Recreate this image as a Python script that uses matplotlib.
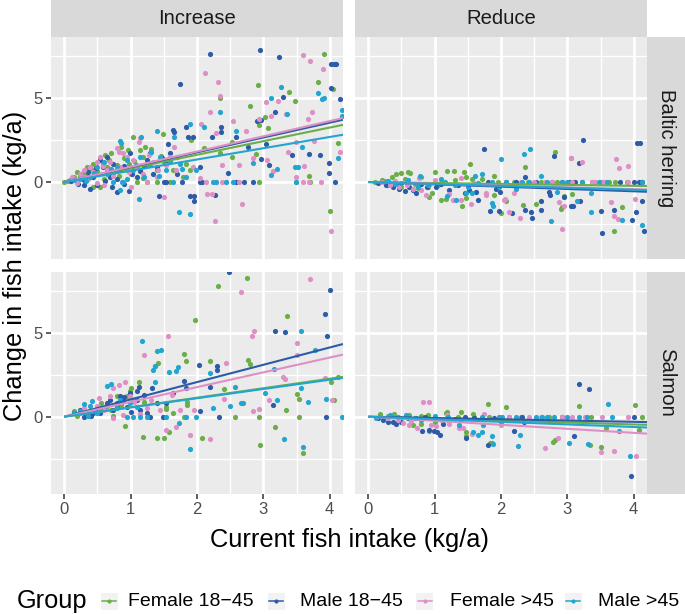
import numpy as np
import matplotlib
matplotlib.use("Agg")
import matplotlib.pyplot as plt
from matplotlib.patches import Rectangle
from matplotlib.lines import Line2D

plt.rcParams['font.family'] = ['Liberation Sans', 'DejaVu Sans']

# groups, in drawing order
groups = ["Female 18\u221245", "Male 18\u221245", "Female >45", "Male >45"]
colors = ["#6BAE47", "#2C5BA8", "#DE90C6", "#22A5D0"]
col_labels = ["Increase", "Reduce"]
row_labels = ["Baltic herring", "Salmon"]
x_ticks = [0, 1, 2, 3, 4]
y_ticks = [0, 5]

# ---- Baltic herring, Increase : (current intake, change) ----
herring_inc_f_young = [(3.91,7.62),(3.82,5.93),(4.05,5.56),(2.92,5.77),(2.34,4.98),(3.39,5.38),(3.48,4.82),(2.8,4.54),
    (3.02,3.85),(3.07,3.19),(2.94,3.39),(2.53,2.4),(2.52,1.51),(2.89,1.67),(4.13,2.34),(3.69,0.38),(4.0,-1.71),(2.94,0),
    (3.71,0),(3.49,0),(2.35,1.73),(1.91,2.5),(1.49,2.86),(1.04,2.7),(1.22,2.06),(1.3,1.95),(1.14,1.9),(0.96,1.9),(0.86,2.1),
    (0.62,1.6),(0.54,1.3),(0.44,1.1),(0.34,0.9),(0.19,0.6),(0.14,0.3),(0.09,0.12),(0.0,0.0),(0.64,0.9),(0.79,1.0),(0.94,0.7),
    (1.09,0),(1.39,0),(1.59,0),(1.24,0),(1.64,0.7),(1.79,0.3),(1.89,0.7),(1.84,1.1),(1.39,0.7),(1.14,0.7),(0.44,-0.28),
    (0.54,-0.28),(1.19,1.5),(0.7,1.75),(0.28,0.55),(0.5,0.65),(0.74,0.55),(1.05,1.25),(1.5,1.2),(2.1,2.0),
    (0.24,0.35),(0.34,0.5),(0.4,0.75),(0.58,1.05),(0.68,1.3),(0.9,1.45),(0.98,1.05),(1.27,1.0),(1.45,1.55),(0.82,0.35),
    (1.0,0.45),(1.18,0.25),(0.6,0.2),(0.06,0.05),(1.7,1.5)]
herring_inc_m_young = [(2.2,7.62),(2.95,7.86),(3.24,7.46),(1.74,5.83),(4.02,7.02),(4.07,7.02),(4.1,7.02),(4.02,5.6),
    (4.16,4.92),(3.3,5.04),(3.18,4.19),(2.36,3.25),(2.36,3.0),(2.22,2.7),(1.64,3.1),(1.66,2.95),(1.84,3.25),(1.87,2.7),
    (1.94,2.7),(1.56,2.24),(2.59,2.7),(2.9,3.65),(2.96,3.72),(2.77,2.06),(3.04,2.26),(3.08,1.03),(2.97,1.37),(3.43,1.59),
    (3.69,1.67),(3.86,1.59),(3.99,0.56),(3.99,1.11),(4.08,0),(2.84,0),(2.71,0),(2.59,0),(2.47,0.52),(2.07,0),(2.04,0),
    (1.78,0),(1.54,0),(1.5,0),(1.42,-0.83),(1.9,-0.83),(1.95,-0.83),(1.95,-1.13),(2.27,-0.75),(0.97,-0.52),(0.79,-0.6),
    (0.72,-0.28),(0.39,-0.42),(0.64,1.5),(0.54,1.3),(0.59,0.9),(0.84,0.7),(1.14,0.64),(1.24,1.3),(1.39,0.9),(1.54,1.1),
    (1.29,1.7),(0.99,1.7),(0.69,0.3),(0.44,0.32),(0.29,0.12),(0.14,0.2),(0.2,-0.1),(0.5,-0.2),(0.8,0.2),(1.1,0.3),
    (1.7,0.5),(1.6,1.7),(2.05,0.9),(0.35,0.6),(0.48,0.85),(0.74,1.1),(0.9,0.95),(1.02,0.5),(1.2,0.95),(0.62,0.05),
    (0.9,-0.1),(0.3,-0.2),(1.33,0.45),(1.47,1.4),(0.1,0.05)]
herring_inc_f_old = [(3.6,7.56),(3.7,7.22),(3.9,6.73),(2.12,6.47),(2.32,5.97),(2.34,5.14),(2.19,4.15),(2.54,3.65),
    (2.94,3.75),(3.04,4.78),(3.22,4.84),(3.11,3.93),(3.34,4.05),(3.73,4.17),(3.67,3.73),(2.06,3.43),(2.28,2.94),(2.74,3.06),
    (2.85,1.41),(3.06,1.31),(2.63,1.03),(2.37,1.01),(3.49,2.36),(3.37,1.79),(3.77,2.44),(4.16,1.79),(3.61,0.95),(3.69,0),
    (3.59,0),(3.87,0),(3.49,0.3),(3.14,0.65),(2.68,-1.29),(2.15,-0.73),(2.23,-0.73),(2.27,-2.3),(4.02,-2.92),(2.04,0.22),
    (1.94,0.91),(1.5,-0.87),(1.14,2.6),(1.12,2.4),(0.82,1.81),(0.89,1.7),(0.79,2.0),(0.54,1.5),(0.49,1.2),(0.39,0.9),
    (0.24,0.5),(0.19,-0.08),(0.29,0.3),(0.44,0.6),(0.64,0.7),(0.69,1.2),(0.84,0.9),(0.94,1.5),(1.04,1.3),(1.19,0.5),
    (1.24,0),(1.39,0.3),(1.34,1.2),(1.41,0.7),(1.66,2.1),(1.59,1.5),(1.54,1.0),(1.69,0.7),(2.29,0),(2.37,0),(2.14,0),
    (2.44,0),(2.64,0),(1.0,-0.3),(0.6,-0.2),(0.3,0.7),(0.58,0.95),(0.74,0.35),(0.98,0.6),(1.1,0.95),(0.15,0.15),
    (0.36,0.15),(0.5,-0.05),(1.28,1.6),(0.12,0.3)]
herring_inc_m_old = [(3.27,5.67),(3.82,5.28),(3.88,4.92),(3.92,5.02),(3.12,5.02),(3.35,4.03),(4.18,4.29),(2.34,4.15),
    (2.11,3.29),(1.9,3.45),(1.39,3.06),(0.84,2.46),(0.86,2.3),(1.16,2.66),(1.66,2.66),(2.59,3.06),(2.84,1.11),(3.2,0.75),
    (3.12,0.4),(3.47,0.91),(3.52,0.91),(3.58,2.1),(4.13,1.41),(4.19,3.93),(1.13,-1.01),(1.73,-1.77),(1.89,-1.9),(2.24,0),
    (2.29,0),(2.44,0),(2.54,0),(3.49,0),(0.87,0),(0.89,0),(1.64,0),(0.79,0.9),(0.94,1.3),(1.14,1.5),(1.29,1.1),(1.44,1.5),
    (1.74,1.1),(1.84,0.3),(0.64,0.5),(0.39,0.3),(0.24,0.2),(0.14,0.12),(1.99,0.7),(1.54,0.7),(1.04,0.7),(0.74,0.02),
    (0.84,-0.5),(0.6,1.2),(1.3,1.8),(0.5,0.9),(1.2,0.3),(0.45,0.55),(0.7,0.75),(0.95,0.2),(1.08,1.0),(1.6,1.25),
    (0.32,0.05),(1.42,0.35),(1.78,0.75)]

# ---- Baltic herring, Reduce ----
herring_red_f_young = [(2.81,1.81),(3.06,1.45),(2.36,0.89),(1.53,1.07),(1.19,0.65),(1.29,0.65),(0.6,0.62),(0.63,0.56),
    (0.35,0.32),(0.42,0.46),(0.49,0.52),(1.0,0.58),(1.44,0.58),(1.47,0.32),(1.71,0.18),(1.9,0.36),(1.57,0.16),(2.33,-1.37),
    (2.0,-1.87),(2.53,-1.33),(2.9,-1.63),(2.92,-1.51),(2.95,-0.81),(3.07,-0.71),(3.7,-2.9),(3.83,-1.47),(1.41,-1.41),
    (0.92,-0.92),(0.96,-0.68),(1.1,-1.07),(1.17,-1.03),(1.48,-0.95),(2.07,-1.13),(1.9,-0.79),(3.37,0),(3.52,0),(3.72,0),
    (4.13,0),(3.62,0),(0.1,0),(0.2,0.1),(0.3,-0.2),(0.5,-0.3),(0.7,-0.1),(0.9,-0.3),(0.8,0.3),(2.6,0),(2.2,0),(1.95,0),
    (0.25,0.05),(0.55,0.15),(0.75,-0.35),(1.05,-0.15),(1.3,0.1),(2.4,0),(2.85,0),(3.1,0),(3.9,0)]
herring_red_m_young = [(3.24,2.48),(4.05,2.34),(4.1,2.34),(1.74,1.94),(2.8,1.57),(3.17,1.11),(2.36,0.28),(1.84,-1.73),
    (1.97,-1.73),(2.16,-1.87),(2.36,-1.67),(2.46,-2.12),(2.45,-1.81),(2.6,-1.67),(2.61,-1.13),(2.72,-0.6),(2.74,-0.8),
    (2.95,-0.87),(3.05,-1.41),(3.09,-1.41),(3.19,-1.13),(3.52,-3.02),(3.51,-1.73),(3.71,-1.67),(3.97,-2.26),(4.03,-1.77),
    (4.13,-1.13),(4.16,-2.94),(1.65,-1.07),(1.99,-0.58),(1.92,-0.44),(0.47,-0.44),(0.72,-0.63),(0.62,-0.28),(0.37,-0.28),
    (0.27,-0.18),(1.02,-0.28),(1.22,-0.48),(1.45,-0.63),(1.52,-0.48),(1.62,-0.58),(2.77,0),(2.92,0),(3.02,0),(3.12,0),
    (4.0,0),(4.08,0),(4.13,0),(3.22,0),(2.22,0),(2.07,0),(2.52,0),(0.8,-0.1),(1.1,-0.1),(0.55,-0.55),(0.15,-0.05),
    (0.42,-0.1),(0.68,-0.45),(0.88,-0.3),(1.35,-0.2),(1.8,0),(3.5,0),(3.8,0)]
herring_red_f_old = [(3.73,1.39),(3.78,0.81),(3.91,0.97),(3.05,1.41),(3.22,1.19),(2.92,-2.82),(2.29,-2.12),(2.12,-1.77),
    (2.88,-1.21),(2.95,-1.41),(3.65,-1.17),(3.71,-2.0),(3.77,-2.18),(4.02,-0.99),(2.19,-0.63),(2.06,-1.0),(2.05,-1.07),
    (1.55,-1.31),(1.28,-1.07),(1.39,-1.07),(1.77,-0.63),(1.77,-0.77),(0.87,-0.77),(0.77,0.26),(1.39,0.22),(0.32,-0.18),
    (0.47,-0.28),(0.67,-0.44),(0.92,-0.18),(1.22,-0.73),(2.67,0),(2.77,0),(3.07,0),(3.22,0),(3.37,0),(3.42,0),(3.52,0),
    (3.57,0),(3.92,0),(0.2,0),(1.1,0),(0.4,0.05),(0.58,-0.15),(0.8,-0.5),(1.0,0.1),(1.6,-0.05),(2.5,0),(2.3,0)]
herring_red_m_old = [(2.44,1.96),(2.34,1.65),(2.0,1.39),(2.6,0.36),(1.72,0.48),(1.61,0.38),(1.09,0.2),(0.78,0.38),
    (2.75,-2.34),(3.36,-1.79),(3.82,-2.28),(4.13,-2.56),(3.35,-0.67),(3.15,-1.13),(2.84,-0.62),(1.86,-1.27),(1.88,-1.43),
    (1.32,-1.07),(1.18,-0.83),(1.47,-0.63),(1.57,-0.67),(2.22,-0.44),(1.97,-0.28),(3.22,0),(3.47,0),(2.32,0),(2.42,0),
    (2.07,0),(1.87,0),(2.92,0),(4.13,0),(0.4,-0.1),(0.6,0.1),(0.9,-0.15),(0.3,0.05),(1.3,-0.2),(0.75,-0.3),(0.5,-0.05),
    (1.15,0.0),(1.5,-0.3),(1.65,-0.05),(2.7,0),(3.0,0),(3.6,0)]

# ---- Salmon, Increase ----
salmon_inc_f_young = [(2.76,8.23),(2.32,7.76),(1.97,5.77),(3.36,5.99),(1.8,3.73),(1.84,3.29),(1.37,3.0),(1.41,3.2),
    (2.77,3.35),(2.8,3.13),(2.2,3.29),(1.12,2.08),(1.0,1.69),(2.4,1.63),(1.85,0.89),(1.85,0.71),(1.54,0.56),(3.5,1.37),
    (3.53,1.05),(3.34,0.38),(4.02,2.04),(4.07,1.01),(4.13,2.36),(3.54,0),(2.94,0),(2.58,0),(1.81,0),(0.92,-0.54),
    (1.19,-1.21),(1.4,-1.29),(1.5,-1.29),(1.58,-0.91),(2.08,-1.27),(2.95,-1.69),(3.17,-0.62),(3.6,-2.16),(0.99,1.51),
    (0.94,1.21),(0.79,1.21),(0.64,0.62),(0.39,0.22),(0.14,0.32),(0.19,0.02),(0.74,0.02),(0.39,0.02),(1.04,1.01),
    (1.54,0.48),(1.64,0.22),(0.55,0.8),(0.3,0.4),(1.2,0.9),(0.7,0.4),(0.85,0.7),(0.48,0.3)]
salmon_inc_m_young = [(2.48,8.59),(4.0,7.56),(3.93,6.13),(3.96,4.8),(3.18,5.08),(3.32,5.04),(2.03,3.1),(2.3,3.04),
    (2.3,2.8),(1.8,2.14),(2.19,1.79),(1.32,1.69),(1.13,1.75),(1.09,1.51),(2.04,0.36),(2.33,0),(3.14,0.69),(3.94,0),
    (1.84,1.69),(1.64,1.41),(1.54,0.81),(1.39,0.81),(1.24,0.22),(1.14,0.42),(0.84,1.21),(0.79,0.81),(0.74,0.42),
    (0.64,0.81),(0.54,0.22),(0.44,0.22),(0.34,0.22),(0.29,0),(0.24,0.42),(0.14,0.22),(0.69,1.0),(0.89,1.01),(0.99,1.41),
    (1.09,1.01),(1.29,0),(1.49,0),(0.6,0.5),(0.4,0.05),(0.95,0.6),(1.0,0.3),(0.8,0.6),(0.9,1.2),(0.5,0.4),(1.2,1.3)]
salmon_inc_f_old = [(3.7,8.19),(2.66,7.4),(2.86,5.1),(2.83,4.82),(1.56,4.8),(1.2,3.67),(2.43,3.21),(3.5,4.38),(3.5,3.65),
    (3.3,2.34),(3.33,2.26),(3.93,2.32),(4.03,1.01),(3.08,0.99),(2.94,0.46),(2.85,0.32),(2.4,1.05),(1.95,0.4),(1.9,-1.11),
    (2.2,-1.31),(1.68,-0.63),(1.53,-0.81),(1.63,1.31),(1.24,0.5),(0.74,1.73),(0.82,1.89),(0.91,2.08),(0.52,1.11),
    (0.69,1.25),(0.99,1.21),(0.49,0.62),(0.24,0.22),(0.39,0.32),(0.74,-0.1),(0.89,0.1),(1.14,0.14),(1.44,0.42),(1.74,0.42),
    (0.6,0.4),(1.05,0.9),(0.3,0.5),(1.3,1.0)]
salmon_inc_m_old = [(1.17,4.52),(1.39,3.89),(1.46,3.97),(1.34,2.8),(1.37,3.0),(1.58,2.64),(1.68,2.7),(1.71,2.96),
    (1.37,2.04),(0.7,1.96),(2.2,2.6),(2.58,1.75),(3.03,1.41),(3.2,0.99),(3.16,2.84),(3.56,5.12),(3.78,3.99),(3.56,1.69),
    (3.67,0.89),(3.94,1.05),(2.66,0.81),(2.7,0.81),(2.5,0.62),(2.24,0.52),(1.98,0),(4.18,0),(3.31,-1.31),(3.6,-1.83),
    (1.89,-1.92),(1.73,-0.4),(0.42,0.91),(0.29,0.77),(0.64,1.81),(0.84,1.01),(0.99,0.81),(1.04,0),(1.14,0),(1.24,0),
    (1.54,0),(1.84,0),(0.94,0),(0.54,0.42),(0.39,0.62),(0.24,0.32),(0.14,0.22),(0.5,0.2),(0.8,0.5),(1.1,0.6),(0.35,0.05)]

# ---- Salmon, Reduce ----
salmon_red_f_young = [(1.8,0.75),(2.07,0.6),(3.17,0.65),(4.02,0.67),(1.39,0.3),(1.58,0.18),(1.17,0.22),(1.19,0.3),
    (0.39,0.16),(0.62,0.12),(0.79,0.02),(0.17,0.18),(2.78,-1.49),(2.81,-1.39),(3.34,-1.71),(3.51,-1.79),(3.58,-0.69),
    (4.08,-0.81),(1.48,-0.91),(1.48,-1.13),(1.83,-1.55),(1.86,-1.59),(0.91,-0.83),(0.79,-0.44),(0.67,-0.52),(4.13,0),
    (3.36,0),(2.92,0),(2.72,0),(1.82,0),(1.59,0),(0.5,-0.1),(1.0,-0.3),(2.3,0),(1.2,-0.2),(0.3,0.05),(0.9,0.1),(1.35,0.0)]
salmon_red_m_young = [(3.17,1.96),(3.32,1.67),(3.96,-3.55),(3.1,-1.17),(2.19,-0.85),(1.8,-1.69),(1.48,-1.29),(1.08,-1.07),
    (1.04,-0.93),(0.99,-0.87),(0.92,-0.77),(0.81,-0.83),(4.0,0),(2.92,0),(2.32,0),(2.12,0),(0.37,-0.34),(0.42,-0.42),
    (0.29,-0.34),(0.22,-0.18),(0.72,-0.08),(1.12,-0.44),(2.35,-0.3),(0.5,-0.3),(0.6,-0.1),(1.3,-0.15),(1.6,-0.1),
    (0.15,-0.05),(0.85,0.0),(1.45,0.0),(1.9,-0.1)]
salmon_red_f_old = [(0.82,0.85),(0.91,0.85),(1.19,0.12),(1.74,0.14),(2.66,-1.88),(2.86,-1.27),(3.51,-2.12),(3.71,-2.04),
    (4.04,-2.32),(1.37,-0.67),(1.42,-0.67),(1.56,-1.03),(0.94,-0.52),(1.02,-0.58),(0.74,-0.67),(0.62,-0.52),(0.52,-0.38),
    (1.22,-0.44),(2.92,0),(3.07,0),(3.27,0),(3.52,0),(3.92,0),(2.42,0),(2.12,0),(1.97,0),(0.3,-0.1),(0.45,-0.2),(2.0,-0.5),
    (0.65,-0.25),(1.1,-0.2),(2.6,0)]
salmon_red_m_old = [(3.61,0.75),(3.94,-2.32),(3.02,-1.57),(3.31,-1.63),(2.25,-1.73),(2.28,-1.11),(1.87,-1.13),(1.88,-1.63),
    (1.73,-0.52),(1.72,-0.89),(1.65,-1.07),(1.58,-0.89),(1.37,-0.52),(3.78,-0.83),(3.67,0),(3.17,0),(2.62,0),(2.52,0),
    (2.22,0),(2.02,0),(1.97,0),(1.72,0),(0.57,0.12),(0.32,0.12),(0.12,-0.08),(1.0,0.05),(0.8,-0.2),(1.4,-0.2),(2.8,0),
    (2.0,-0.3),(2.7,0),(0.45,0.0),(0.7,-0.05),(1.2,0.0),(3.3,0),(3.0,0)]

# fitted slopes (change per kg/a), same group order
herring_inc_slopes = [0.81, 0.883, 0.907, 0.67]
herring_red_slopes = [-0.057, -0.138, -0.107, -0.115]
salmon_inc_slopes = [0.565, 1.03, 0.88, 0.55]
salmon_red_slopes = [-0.115, -0.076, -0.24, -0.153]

panels = [
    [([herring_inc_f_young, herring_inc_m_young, herring_inc_f_old, herring_inc_m_old], herring_inc_slopes),
     ([herring_red_f_young, herring_red_m_young, herring_red_f_old, herring_red_m_old], herring_red_slopes)],
    [([salmon_inc_f_young, salmon_inc_m_young, salmon_inc_f_old, salmon_inc_m_old], salmon_inc_slopes),
     ([salmon_red_f_young, salmon_red_m_young, salmon_red_f_old, salmon_red_m_old], salmon_red_slopes)],
]

W, H = 685, 614
fig = plt.figure(figsize=(W / 100, H / 100), dpi=100)

def fx(px):
    return px / W

def fy(py):
    return 1 - py / H

xlim = (-0.2, 4.2)
ylim = (-4.6, 8.63)
col_x = [51, 355]
pw = 292
row_y = [37, 271.7]
ph = 222.3

for r in range(2):
    for c in range(2):
        ax = fig.add_axes([fx(col_x[c]), fy(row_y[r] + ph), fx(pw), ph / H])
        ax.set_facecolor('#EBEBEB')
        for s in ax.spines.values():
            s.set_visible(False)
        ax.set_xlim(*xlim)
        ax.set_ylim(*ylim)
        ax.set_xticks(x_ticks)
        ax.set_xticks([0.5, 1.5, 2.5, 3.5], minor=True)
        ax.set_yticks(y_ticks)
        ax.set_yticks([-2.5, 2.5, 7.5], minor=True)
        ax.grid(which='major', color='white', lw=2.0)
        ax.grid(which='minor', color='white', lw=1.0)
        ax.set_axisbelow(True)
        ax.tick_params(which='minor', length=0)
        ax.tick_params(which='major', length=3.6, width=1.1, color='#333333',
                       labelcolor='#4D4D4D', labelsize=12, pad=2.5)
        if r == 0:
            ax.tick_params(axis='x', length=0, labelbottom=False)
        if c == 1:
            ax.tick_params(axis='y', length=0, labelleft=False)

        grp_pts, slopes = panels[r][c]
        for pts, col in zip(grp_pts, colors):
            a = np.array(pts)
            ax.scatter(a[:, 0], a[:, 1], s=14, color=col, linewidths=0, zorder=3)
        xs = np.array([0, 4.2])
        for sl, col in zip(slopes, colors):
            ax.plot(xs, sl * xs, color=col, lw=1.5, zorder=4, solid_capstyle='butt')

# strips
for c in range(2):
    sax = fig.add_axes([fx(col_x[c]), fy(37), fx(pw), 37 / H])
    sax.set_facecolor('#D9D9D9')
    sax.set_xticks([]); sax.set_yticks([])
    for s in sax.spines.values():
        s.set_visible(False)
    sax.text(0.5, 0.5, col_labels[c], ha='center', va='center', fontsize=14.6, color='#1A1A1A',
             transform=sax.transAxes)
for r in range(2):
    sax = fig.add_axes([fx(647.3), fy(row_y[r] + ph), fx(37.7), ph / H])
    sax.set_facecolor('#D9D9D9')
    sax.set_xticks([]); sax.set_yticks([])
    for s in sax.spines.values():
        s.set_visible(False)
    sax.text(0.5, 0.5, row_labels[r], ha='center', va='center', fontsize=14.6, color='#1A1A1A',
             rotation=-90, transform=sax.transAxes)

# axis titles
fig.text(fx(349), fy(540), "Current fish intake (kg/a)", ha='center', va='center', fontsize=18.3)
fig.text(fx(15), fy(265.5), "Change in fish intake (kg/a)", ha='center', va='center', fontsize=18.3,
         rotation=90)

# legend
ly = 601
fig.text(fx(16.6), fy(ly), "Group", ha='left', va='center', fontsize=18.3)
key_x = [109, 276, 424.6, 573]
lab_x = [128, 300, 450, 597.6]
for kx, tx, col, lab in zip(key_x, lab_x, colors, groups):
    fig.add_artist(Rectangle((fx(kx - 8.5), fy(ly + 8.5)), fx(17), 17 / H,
                             transform=fig.transFigure, facecolor='#F2F2F2', edgecolor='none'))
    fig.add_artist(Line2D([fx(kx - 7), fx(kx + 7)], [fy(ly), fy(ly)], transform=fig.transFigure,
                          color=col, lw=1.1))
    fig.add_artist(Line2D([fx(kx)], [fy(ly)], transform=fig.transFigure, marker='o', ms=3,
                          color=col, mec='none'))
    fig.text(fx(tx), fy(ly), lab, ha='left', va='center', fontsize=14)

fig.savefig("out.png", dpi=100)
